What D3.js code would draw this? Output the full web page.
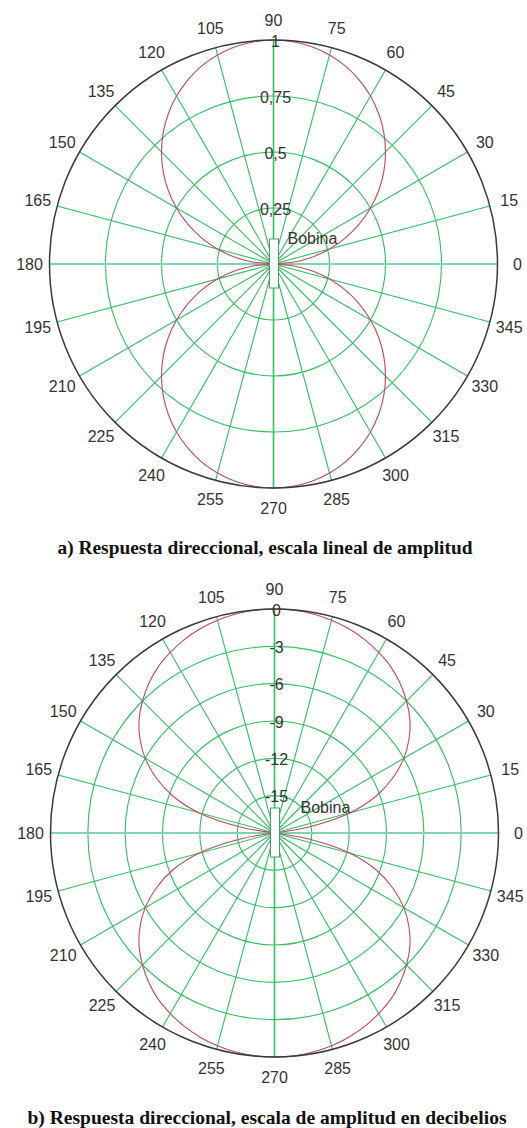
<!DOCTYPE html>
<html>
<head>
<meta charset="utf-8">
<script src="https://cdn.jsdelivr.net/npm/d3@7"></script>
<style>
  body { margin: 0; background: #fff; }
  svg { display: block; }
</style>
</head>
<body>
<svg id="chart" width="527" height="1128"></svg>
<script>
// angle ticks (degrees, counter-clockwise from 0 = right)
const angleTicks = [0, 15, 30, 45, 60, 75, 90, 105, 120, 135, 150, 165,
  180, 195, 210, 225, 240, 255, 270, 285, 300, 315, 330, 345];

// radial ticks, linear plot
const linTicks = [0.25, 0.5, 0.75, 1];
const linTickLabels = ['0,25', '0,5', '0,75', '1'];

// radial ticks, dB plot
const dbTicks = [-15, -12, -9, -6, -3, 0];
const dbTickLabels = ['-15', '-12', '-9', '-6', '-3', '0'];

// response, one quadrant (0..90 deg), the rest is symmetric
const respAngles = [0, 5, 10, 15, 20, 25, 30, 35, 40, 45, 50, 55, 60, 65, 70, 75, 80, 85, 90];
const linResponse = [0, 0.087, 0.174, 0.259, 0.342, 0.423, 0.5, 0.574, 0.643, 0.707,
  0.766, 0.819, 0.866, 0.906, 0.94, 0.966, 0.985, 0.996, 1.0];
const dbResponse = [-18, -18, -15.2, -11.7, -9.3, -7.5, -6.0, -4.8, -3.8, -3.0,
  -2.3, -1.7, -1.25, -0.85, -0.54, -0.3, -0.13, -0.03, 0];

const captions = [
  'a) Respuesta direccional, escala lineal de amplitud',
  'b) Respuesta direccional, escala de amplitud en decibelios'
];

let svg = d3.select('#chart');
svg.append('rect').attr('width', 527).attr('height', 1128).attr('fill', '#fff');

const R = 224;
const green = '#33c060';
const rad = d => d * Math.PI / 180;

// build the full turn from the quadrant by mirroring
function fullTurn(values) {
  let pts = [];
  for (let i = 0; i < 72; i++) {
    let a = (i * 5) % 180;
    let q = a <= 90 ? a : 180 - a;
    pts.push({ angle: i * 5, value: values[respAngles.indexOf(q)] });
  }
  return pts;
}

function polarPlot(opt) {
  let g = svg.append('g').attr('transform', `translate(${opt.cx},${opt.cy})`);
  let r = d3.scaleLinear().domain(opt.domain).range([0, R]).clamp(true);
  let px = (a, v) => r(v) * Math.cos(rad(a));
  let py = (a, v) => -r(v) * Math.sin(rad(a));

  // inner grid circles
  g.selectAll('circle.grid')
    .data(opt.ticks.slice(0, -1))
    .join('circle')
    .attr('class', 'grid')
    .attr('r', d => r(d))
    .attr('fill', 'none')
    .attr('stroke', green)
    .attr('stroke-width', 1.1);

  // spokes
  g.selectAll('line.spoke')
    .data(angleTicks.filter(a => a % 180 !== 0))
    .join('line')
    .attr('class', 'spoke')
    .attr('x1', 0).attr('y1', 0)
    .attr('x2', a => px(a, opt.domain[1]))
    .attr('y2', a => py(a, opt.domain[1]))
    .attr('stroke', green)
    .attr('stroke-width', a => a % 90 === 0 ? 1.6 : 1.1);

  // horizontal axis 0-180
  g.append('line')
    .attr('x1', px(180, opt.domain[1])).attr('y1', 0)
    .attr('x2', px(0, opt.domain[1])).attr('y2', 0)
    .attr('stroke', '#7fd3b0')
    .attr('stroke-width', 2);

  // response curve
  let pts = fullTurn(opt.response);
  let line = d3.line()
    .x(d => px(d.angle, d.value))
    .y(d => py(d.angle, d.value))
    .curve(d3.curveCatmullRomClosed.alpha(0.5));
  g.append('path')
    .attr('d', line(pts))
    .attr('fill', 'none')
    .attr('stroke', '#c04a60')
    .attr('stroke-width', 1.1);

  // outer circle
  g.append('circle')
    .attr('r', R)
    .attr('fill', 'none')
    .attr('stroke', '#3a3a3a')
    .attr('stroke-width', 1.5);

  // coil
  g.append('rect')
    .attr('x', -4).attr('y', -25)
    .attr('width', 9).attr('height', 49)
    .attr('fill', '#fff')
    .attr('stroke', '#4a9a70')
    .attr('stroke-width', 1);
  g.append('text')
    .attr('x', opt.coilLabelX).attr('y', -26)
    .attr('dominant-baseline', 'central')
    .attr('font-family', 'Liberation Sans, Arial, sans-serif')
    .attr('font-size', 16)
    .attr('fill', '#333')
    .text('Bobina');

  // radial tick labels
  g.selectAll('text.rtick')
    .data(opt.ticks)
    .join('text')
    .attr('class', 'rtick')
    .attr('x', 2)
    .attr('y', d => -r(d) + 1)
    .attr('text-anchor', 'middle')
    .attr('dominant-baseline', 'central')
    .attr('font-family', 'Liberation Sans, Arial, sans-serif')
    .attr('font-size', 16)
    .attr('fill', '#333')
    .text((d, i) => opt.tickLabels[i]);

  // angle labels
  g.selectAll('text.atick')
    .data(angleTicks)
    .join('text')
    .attr('class', 'atick')
    .attr('x', a => 244 * Math.cos(rad(a)))
    .attr('y', a => -244 * Math.sin(rad(a)))
    .attr('text-anchor', 'middle')
    .attr('dominant-baseline', 'central')
    .attr('font-family', 'Liberation Sans, Arial, sans-serif')
    .attr('font-size', 16)
    .attr('fill', '#333')
    .text(a => a);

  // caption
  svg.append('text')
    .attr('x', opt.captionX).attr('y', opt.captionY)
    .attr('text-anchor', 'middle')
    .attr('font-family', 'Liberation Serif, Times New Roman, serif')
    .attr('font-weight', 'bold')
    .attr('font-size', 19)
    .attr('textLength', opt.captionW)
    .attr('lengthAdjust', 'spacingAndGlyphs')
    .attr('fill', '#111')
    .text(opt.caption);
}

polarPlot({
  cx: 273.5, cy: 264, domain: [0, 1],
  ticks: linTicks, tickLabels: linTickLabels,
  response: linResponse, coilLabelX: 14,
  caption: captions[0], captionX: 265, captionY: 554, captionW: 415
});

polarPlot({
  cx: 274.5, cy: 833, domain: [-18, 0],
  ticks: dbTicks, tickLabels: dbTickLabels,
  response: dbResponse, coilLabelX: 26,
  caption: captions[1], captionX: 267, captionY: 1124, captionW: 479
});
</script>
</body>
</html>
